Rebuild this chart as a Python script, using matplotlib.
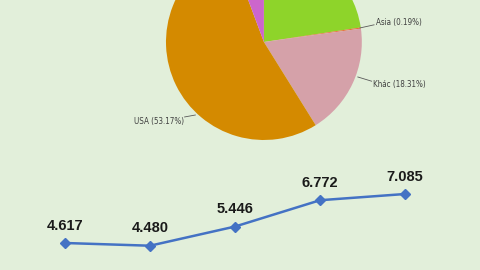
import matplotlib
matplotlib.use("Agg")
import matplotlib.pyplot as plt

# pie data (slices starting at 12 o'clock, clockwise)
pie_labels = ["", "Asia (0.19%)", "Khác (18.31%)", "USA (53.17%)", ""]
pie_values = [22.63, 0.19, 18.31, 53.17, 5.70]
pie_colors = ["#8ed42a", "#e8703a", "#d5a1a9", "#d48a00", "#cc66cc"]

# line data
line_values = [4.617, 4.480, 5.446, 6.772, 7.085]
line_labels = ["4.617", "4.480", "5.446", "6.772", "7.085"]

bg = "#e2efda"
text_color = "#404040"

fig = plt.figure(figsize=(4.8, 2.7), dpi=100)
fig.patch.set_facecolor(bg)

# pie, partly cut off by the top of the figure
ax_pie = fig.add_axes([0.3458, 0.4815, 0.408, 0.726])
ax_pie.set_facecolor("none")
wedges, _ = ax_pie.pie(pie_values, colors=pie_colors, startangle=90,
                       counterclock=False, radius=1.0)
ax_pie.set_xlim(-1, 1)
ax_pie.set_ylim(-1, 1)
ax_pie.set_aspect("auto")
ax_pie.axis("off")

# pie labels: leader line (edge point -> elbow), text position, alignment
label_pos = {
    "Asia (0.19%)": ((0.98, 0.143), (1.125, 0.175), (1.14, 0.20), "left"),
    "Khác (18.31%)": ((0.959, -0.357), (1.10, -0.40), (1.11, -0.43), "left"),
    "USA (53.17%)": ((-0.70, -0.745), (-0.81, -0.765), (-0.82, -0.81), "right"),
}
for lab in pie_labels:
    if not lab:
        continue
    (x0, y0), (x1, y1), (tx, ty), ha = label_pos[lab]
    ax_pie.plot([x0, x1], [y0, y1], color="#595959", lw=0.6, clip_on=False)
    ax_pie.text(tx, ty, lab, ha=ha, va="center", fontsize=5.8,
                fontstretch="condensed", color=text_color, family="DejaVu Sans")

# line chart
ax_line = fig.add_axes([0, 0, 1, 110 / 270])
ax_line.set_facecolor("none")
xs = list(range(len(line_values)))
ax_line.plot(xs, line_values, color="#4472c4", lw=1.8, marker="D", markersize=5)
for x, v, t in zip(xs, line_values, line_labels):
    ax_line.annotate(t, (x, v), xytext=(0, 7.5), textcoords="offset points",
                     ha="center", va="bottom", fontsize=10.5, fontweight="bold",
                     color="#1a1a1a", family=["Liberation Sans", "DejaVu Sans"])
ax_line.set_xlim(-0.765, 4.882)
ax_line.set_ylim(3.257, 8.798)
ax_line.axis("off")

fig.savefig("out.png", dpi=100, facecolor=bg)
